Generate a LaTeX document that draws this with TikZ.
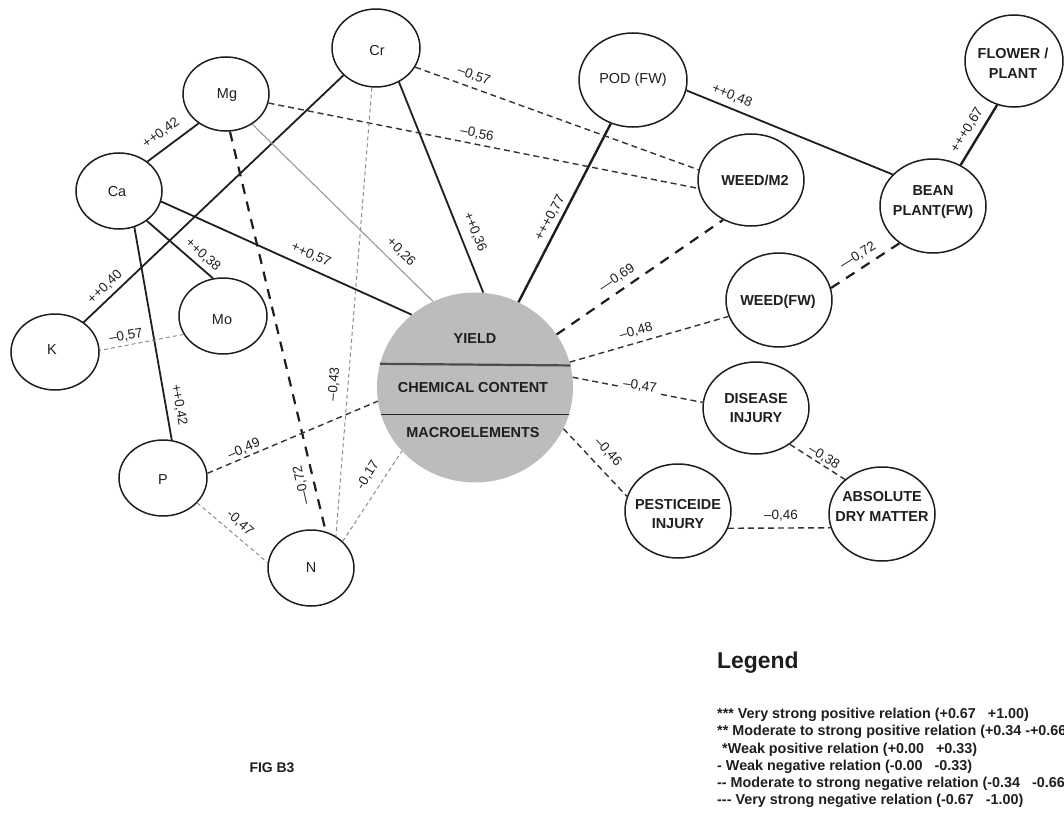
\documentclass[tikz,border=0pt]{standalone}
\usepackage{fontspec}
\setmainfont{Liberation Sans}
\usetikzlibrary{shapes.geometric}

\definecolor{ink}{RGB}{30,30,30}
\definecolor{discgray}{RGB}{189,187,187}

\tikzset{
  ell/.style={draw=ink, line width=1.5bp, shape=ellipse, inner sep=0pt},
  ntxt/.style={font=\fontsize{14.5}{20}\selectfont, align=center, inner sep=0pt, text=ink},
  nbold/.style={ntxt, font=\fontsize{14.5}{20}\selectfont\bfseries},
  elab/.style={font=\fontsize{13.5}{16}\selectfont, inner sep=0pt, text=ink},
  pos1/.style={draw=black!40, line width=1.1bp},
  pos2/.style={draw=ink, line width=1.8bp},
  pos3/.style={draw=ink, line width=2.4bp},
  neg1/.style={draw=black!45, line width=1bp, dash pattern=on 4bp off 3bp},
  neg2/.style={draw=black!80, line width=1.4bp, dash pattern=on 6bp off 4bp},
  neg3/.style={draw=ink, line width=2.2bp, dash pattern=on 10bp off 8bp},
}

\begin{document}
\begin{tikzpicture}[x=1bp, y=-1bp]
\useasboundingbox (0,0) rectangle (1064,816);

% central disc with its three bands
\node[draw=none, fill=discgray, shape=ellipse, inner sep=0pt,
      minimum width=196bp, minimum height=190bp] (core) at (475,387.5) {};
\draw[draw=black!70, line width=2.2bp] (core.166.7) -- (core.13.3);
\draw[draw=black!85, line width=1.6bp] (core.196.95) -- (core.-16.95);
\node[nbold] (core-a) at (475,339) {YIELD};
\node[nbold] (core-b) at (473,388) {CHEMICAL CONTENT};
\node[nbold] (core-c) at (473,433) {MACROELEMENTS};

% element and crop nodes
\node[ell, minimum width=86bp, minimum height=74bp] (mg) at (226,94) {};
\node[ell, minimum width=86bp, minimum height=76bp] (ca) at (119,191) {};
\node[ell, minimum width=88bp, minimum height=78bp] (cr) at (376,48) {};
\node[ell, minimum width=108bp, minimum height=94bp] (pod) at (633,80) {};
\node[ell, minimum width=98bp, minimum height=92bp] (flower) at (1014,61) {};
\node[ell, minimum width=106bp, minimum height=92bp] (weedm) at (751,180) {};
\node[ell, minimum width=106bp, minimum height=94bp] (bean) at (933,206) {};
\node[ell, minimum width=106bp, minimum height=94bp] (weedfw) at (779,300) {};
\node[ell, minimum width=106bp, minimum height=92bp] (disease) at (756,408) {};
\node[ell, minimum width=106bp, minimum height=94bp] (pest) at (678,511) {};
\node[ell, minimum width=106bp, minimum height=94bp] (adm) at (882,514) {};
\node[ell, minimum width=88bp, minimum height=76bp] (k) at (55,352) {};
\node[ell, minimum width=88bp, minimum height=76bp] (mo) at (223,316) {};
\node[ell, minimum width=88bp, minimum height=76bp] (p) at (163,478) {};
\node[ell, minimum width=86bp, minimum height=76bp] (n) at (311,568) {};

\node[ntxt] (mg-t) at (227,95) {Mg};
\node[ntxt] (ca-t) at (117,192) {Ca};
\node[ntxt] (cr-t) at (377,51) {Cr};
\node[ntxt] (pod-t) at (633,80) {POD (FW)};
\node[nbold] (flower-t) at (1013,63) {FLOWER /\\PLANT};
\node[nbold] (weedm-t) at (755,180) {WEED/M2};
\node[nbold] (bean-t) at (933,202) {BEAN\\PLANT(FW)};
\node[nbold] (weedfw-t) at (778,302) {WEED(FW)};
\node[nbold] (disease-t) at (756,408) {DISEASE\\INJURY};
\node[nbold] (pest-t) at (678,514) {PESTICEIDE\\INJURY};
\node[nbold] (adm-t) at (882,506) {ABSOLUTE\\DRY MATTER};
\node[ntxt] (k-t) at (52,350) {K};
\node[ntxt] (mo-t) at (222,320) {Mo};
\node[ntxt] (p-t) at (163,480) {P};
\node[ntxt] (n-t) at (311,568) {N};

% positive relations
\draw[pos2] (ca.46) -- (mg.227)
  node[elab, rotate=36.5] (l1) at (161,133) {++0,42};
\draw[pos2] (cr.220) -- (k.46)
  node[elab, rotate=43.5] (l2) at (105,287) {++0,40};
\draw[pos2] (ca.313) -- (mo.105)
  node[elab, rotate=-42] (l3) at (203,255) {++0,38};
\draw[pos2] (ca.293) -- (p.77)
  node[elab, rotate=-80] (l4) at (179,405) {++0,42};
\draw[pos2] (ca.346) -- (core.131)
  node[elab, rotate=-24] (l5) at (311,255) {++0,57};
\draw[pos1] (mg.311) -- (core.116)
  node[elab, rotate=-44] (l6) at (401,252) {+0,26};
\draw[pos2] (cr.304) -- (core.85)
  node[elab, rotate=-68] (l7) at (475,232) {++0,36};
\draw[pos3] (pod.243) -- (core.63)
  node[elab, rotate=62] (l8) at (550,218) {+++0,77};
\draw[pos2] (pod.349) -- (bean.142.5)
  node[elab, rotate=-22] (l9) at (732,96) {++0,48};
\draw[pos3] (flower.249) -- (bean.56.6)
  node[elab, rotate=58] (l10) at (967,130) {+++0,67};

% negative relations
\draw[neg2] (cr.334) -- (weedm.169)
  node[elab, rotate=-20] (l11) at (474,76) {--0,57};
\draw[neg2] (mg.348) -- (weedm.189)
  node[elab, rotate=-11] (l12) at (477,134) {--0,56};
\draw[neg3] (mg.276) -- (n.68)
  node[elab, rotate=103] (l13) at (302,485) {---0,72};
\draw[neg1] (cr.264) -- (n.52)
  node[elab, rotate=85] (l14) at (334,384) {--0,43};
\draw[neg1] (mo.205) -- (k.2.5)
  node[elab, rotate=10] (l15) at (126,336) {--0,57};
\draw[neg2] (p.6.5) -- (core.188)
  node[elab, rotate=23] (l16) at (244,449) {--0,49};
\draw[neg1] (p.324) -- (n.173.5)
  node[elab, rotate=-41] (l17) at (240,523) {-0,47};
\draw[neg1] (n.40.7) -- (core.221)
  node[elab, rotate=58] (l18) at (368,475) {-0,17};
\draw[neg3] (core.33) -- (weedm.235)
  node[elab, rotate=34] (l19) at (617,278) {---0,69};
\draw[neg2] (core.15.5) -- (weedfw.198)
  node[elab, rotate=15.5] (l20) at (636,331) {--0,48};
\draw[neg2] (core.6) -- (disease.174.6)
  node[elab, rotate=-8, fill=white, inner sep=1bp] (l21) at (640,386) {--0,47};
\draw[neg2] (core.335.6) -- (pest.164.6)
  node[elab, rotate=-47.5] (l22) at (608,452) {--0,46};
\draw[neg2] (disease.313.5) -- (adm.137)
  node[elab, rotate=-32] (l23) at (824,457) {--0,38};
\draw[neg2] (pest.341) -- (adm.195.5)
  node[elab] (l24) at (781,516) {--0,46};
\draw[neg3] (weedfw.13.8) -- (bean.228)
  node[elab, rotate=32] (l25) at (858,256) {---0,72};

% caption and key
\node[font=\fontsize{14}{16}\selectfont\bfseries, text=ink, inner sep=0pt] (fig) at (272,768) {FIG B3};
\node[font=\fontsize{23}{26}\selectfont\bfseries, text=ink, inner sep=0pt, anchor=west] (legend-title) at (717,663) {Legend};
\node[font=\fontsize{14.4}{17.2}\selectfont\bfseries, text=ink, inner sep=0pt, anchor=west, align=left] (legend) at (717,758)
  {*** Very strong positive relation (+0.67~~~+1.00)\\
   ** Moderate to strong positive relation (+0.34 -+0.66)\\
   \hspace*{5bp}*Weak positive relation (+0.00~~~+0.33)\\
   - Weak negative relation (-0.00~~~-0.33)\\
   -{}- Moderate to strong negative relation (-0.34~~~-0.66)\\
   -{}-{}- Very strong negative relation (-0.67~~~-1.00)};
\end{tikzpicture}
\end{document}
